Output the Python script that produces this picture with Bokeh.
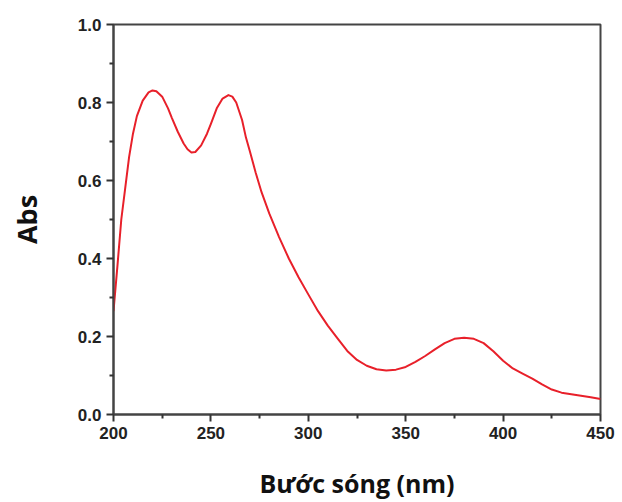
from bokeh.plotting import figure
from bokeh.models import Range1d, FixedTicker, NumeralTickFormatter
from bokeh.embed import file_html
from bokeh.resources import INLINE

wavelength = [200, 202, 204, 206, 208, 210, 212, 215, 218, 220, 222, 225, 228, 230,
              233, 236, 238, 240, 242, 245, 248, 250, 253, 256, 259, 261, 263, 266,
              268, 270, 273, 276, 280, 285, 290, 295, 300, 305, 310, 315, 320, 325,
              330, 335, 340, 345, 350, 355, 360, 365, 370, 375, 380, 385, 390, 395,
              400, 405, 410, 415, 420, 425, 430, 435, 440, 445, 450]
absorbance = [0.265, 0.38, 0.50, 0.58, 0.66, 0.72, 0.765, 0.805, 0.826, 0.831, 0.829, 0.815, 0.785, 0.76,
              0.725, 0.695, 0.68, 0.672, 0.673, 0.69, 0.72, 0.745, 0.785, 0.81, 0.819, 0.815, 0.80, 0.755,
              0.71, 0.675, 0.62, 0.57, 0.515, 0.455, 0.40, 0.352, 0.308, 0.265, 0.228, 0.195, 0.163, 0.14,
              0.125, 0.116, 0.113, 0.115, 0.122, 0.135, 0.15, 0.167, 0.183, 0.194, 0.197, 0.194, 0.183, 0.162,
              0.138, 0.118, 0.105, 0.092, 0.077, 0.064, 0.056, 0.052, 0.048, 0.044, 0.04]

x_ticks = [200, 250, 300, 350, 400, 450]
x_minor = [225, 275, 325, 375, 425]
y_ticks = [0.0, 0.2, 0.4, 0.6, 0.8, 1.0]
y_minor = [0.1, 0.3, 0.5, 0.7, 0.9]

p = figure(width=622, height=502, output_backend="svg", toolbar_location=None,
           x_range=Range1d(200, 450), y_range=Range1d(0, 1.0),
           min_border_left=113, min_border_right=22, min_border_top=24, min_border_bottom=86)

p.line(wavelength, absorbance, line_color="#e8202a", line_width=2, line_join="round")

p.grid.visible = False
p.outline_line_color = "#444444"
p.outline_line_width = 2
p.background_fill_color = "white"
p.border_fill_color = "white"

p.xaxis.ticker = FixedTicker(ticks=x_ticks, minor_ticks=x_minor)
p.yaxis.ticker = FixedTicker(ticks=y_ticks, minor_ticks=y_minor)
p.yaxis.formatter = NumeralTickFormatter(format="0.0")

for ax in (p.xaxis, p.yaxis):
    ax.axis_line_color = "#444444"
    ax.axis_line_width = 2
    ax.major_tick_line_color = "#333333"
    ax.major_tick_line_width = 2
    ax.minor_tick_line_color = "#333333"
    ax.minor_tick_line_width = 2
    ax.major_tick_out = 7
    ax.major_tick_in = 0
    ax.minor_tick_out = 4
    ax.minor_tick_in = 0
    ax.major_label_text_font = "Liberation Sans"
    ax.major_label_text_font_style = "bold"
    ax.major_label_text_font_size = "17px"
    ax.major_label_text_color = "#222222"
    ax.major_label_standoff = 5
    ax.axis_label_text_font = "Open Sans"
    ax.axis_label_text_font_style = "bold"
    ax.axis_label_text_color = "#111111"

p.xaxis.axis_label = "Bước sóng (nm)"
p.yaxis.axis_label = "Abs"
p.xaxis.axis_label_text_font_size = "25px"
p.yaxis.axis_label_text_font_size = "27px"
p.xaxis.axis_label_standoff = 24
p.yaxis.axis_label_standoff = 30

open("out.html", "w").write(file_html(p, INLINE))
